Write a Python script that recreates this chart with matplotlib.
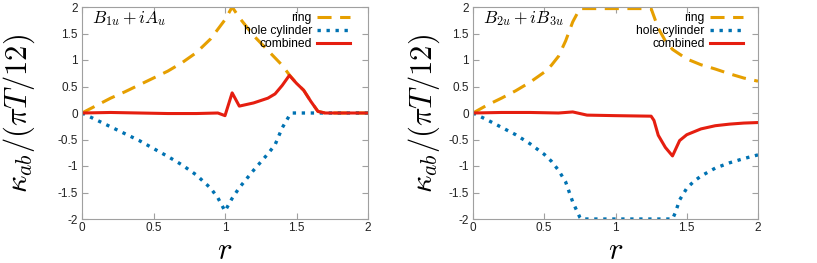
import numpy as np
import matplotlib
matplotlib.use("Agg")
import matplotlib.pyplot as plt

plt.rcParams['font.family'] = ['Liberation Sans', 'DejaVu Sans']
plt.rcParams['mathtext.fontset'] = 'cm'

# left panel: B1u + iA1u
r_ring_1 = [0, 0.1, 0.2, 0.3, 0.4, 0.5, 0.6, 0.7, 0.8, 0.9, 1.0, 1.05,
            1.1, 1.2, 1.3, 1.4, 1.45, 1.5, 1.55, 1.6, 1.65, 1.7, 2.0]
ring_1 = [0, 0.14, 0.28, 0.40, 0.53, 0.66, 0.79, 0.95, 1.14, 1.40, 1.76, 2.0,
          1.8, 1.46, 1.18, 0.9, 0.72, 0.56, 0.43, 0.22, 0.03, 0, 0]
r_hole_1 = [0, 0.1, 0.2, 0.3, 0.4, 0.5, 0.6, 0.7, 0.8, 0.9, 0.95, 1.0,
            1.05, 1.1, 1.2, 1.3, 1.35, 1.4, 1.45, 1.47, 2.0]
hole_1 = [0, -0.13, -0.26, -0.39, -0.52, -0.67, -0.82, -0.98, -1.17, -1.42, -1.6, -1.85,
          -1.61, -1.41, -1.08, -0.77, -0.6, -0.28, -0.05, 0, 0]
r_comb_1 = [0, 0.2, 0.4, 0.6, 0.8, 0.95, 1.0, 1.05, 1.1, 1.2, 1.3, 1.35, 1.4,
            1.45, 1.5, 1.55, 1.6, 1.65, 1.7, 2.0]
comb_1 = [0, 0.01, 0.0, -0.01, -0.01, 0.0, -0.05, 0.38, 0.13, 0.19, 0.28, 0.36, 0.52,
          0.71, 0.56, 0.43, 0.22, 0.03, 0, 0]

# right panel: B2u + iB3u
r_ring_2 = [0, 0.1, 0.2, 0.3, 0.4, 0.5, 0.55, 0.6, 0.65, 0.7, 0.75, 1.25,
            1.3, 1.35, 1.4, 1.5, 1.6, 1.7, 1.8, 1.9, 2.0]
ring_2 = [0, 0.15, 0.28, 0.42, 0.58, 0.77, 0.9, 1.07, 1.36, 1.72, 1.97, 1.97,
          1.6, 1.36, 1.2, 1.02, 0.91, 0.83, 0.74, 0.66, 0.6]
r_hole_2 = [0, 0.1, 0.2, 0.3, 0.4, 0.5, 0.55, 0.6, 0.65, 0.7, 0.75, 0.76, 1.4,
            1.42, 1.45, 1.5, 1.55, 1.6, 1.7, 1.8, 1.9, 2.0]
hole_2 = [0, -0.13, -0.27, -0.41, -0.58, -0.78, -0.91, -1.08, -1.3, -1.68, -1.97, -2.0, -2.0,
          -1.88, -1.64, -1.42, -1.29, -1.19, -1.04, -0.94, -0.86, -0.79]
r_comb_2 = [0, 0.2, 0.4, 0.6, 0.7, 0.8, 1.0, 1.25, 1.27, 1.3, 1.35, 1.4,
            1.45, 1.5, 1.6, 1.7, 1.8, 1.9, 2.0]
comb_2 = [0, 0.01, 0.01, 0.0, 0.02, -0.04, -0.05, -0.06, -0.14, -0.42, -0.65, -0.81,
          -0.52, -0.41, -0.3, -0.24, -0.21, -0.19, -0.18]

xticks = [0, 0.5, 1, 1.5, 2]
xtick_labels = ['0', '0.5', '1', '1.5', '2']
yticks = [-2, -1.5, -1, -0.5, 0, 0.5, 1, 1.5, 2]
ytick_labels = ['-2', '-1.5', '-1', '-0.5', '0', '0.5', '1', '1.5', '2']

orange = '#e69f00'
blue = '#0072b2'
red = '#e51e10'
grey = '#a0a0a0'

fig = plt.figure(figsize=(8.17, 2.63), dpi=100)
ax1 = fig.add_axes([82 / 817, 44 / 263, 286 / 817, 212 / 263])
ax2 = fig.add_axes([473 / 817, 44 / 263, 285 / 817, 212 / 263])

panels = [
    (ax1, r_ring_1, ring_1, r_hole_1, hole_1, r_comb_1, comb_1,
     r'$B_{1u} + iA_u$', -0.157, 0.937),
    (ax2, r_ring_2, ring_2, r_hole_2, hole_2, r_comb_2, comb_2,
     r'$B_{2u} + iB_{3u}$', -0.109, 0.947),
]

for ax, rr, ring, rh, hole, rc, comb, title, lab_x, leg_x in panels:
    ax.plot(rr, ring, color=orange, lw=2.2, linestyle=(0, (4.6, 2.8)), label='ring')
    ax.plot(rh, hole, color=blue, lw=2.4, linestyle=(0, (1, 1.7)), label='hole cylinder')
    ax.plot(rc, comb, color=red, lw=2.2, label='combined')
    ax.set_xlim(0, 2)
    ax.set_ylim(-2, 2)
    ax.set_xticks(xticks)
    ax.set_xticklabels(xtick_labels)
    ax.set_yticks(yticks)
    ax.set_yticklabels(ytick_labels)
    ax.tick_params(direction='in', length=4, width=0.8, color=grey,
                   top=True, right=True, labelsize=8.5, labelcolor='#222222')
    ax.tick_params(axis='x', pad=2.5)
    ax.tick_params(axis='y', pad=3)
    for sp in ax.spines.values():
        sp.set_color(grey)
        sp.set_linewidth(0.8)
    ax.set_xlabel(r'$r$', fontsize=22)
    ax.xaxis.set_label_coords(0.5, -0.078)
    ax.set_ylabel(r'$\kappa_{ab}/(\pi T/12)$', fontsize=22)
    ax.yaxis.set_label_coords(lab_x, 0.5)
    ax.text(0.035, 0.945, title, transform=ax.transAxes, fontsize=12.5,
            ha='left', va='center')
    ax.legend(loc='upper right', bbox_to_anchor=(leg_x, 0.975), frameon=False,
              markerfirst=False, fontsize=8.7, handlelength=2.7, handletextpad=0.45,
              labelspacing=0.06, borderaxespad=0, borderpad=0)

fig.savefig('out.png', dpi=100)
